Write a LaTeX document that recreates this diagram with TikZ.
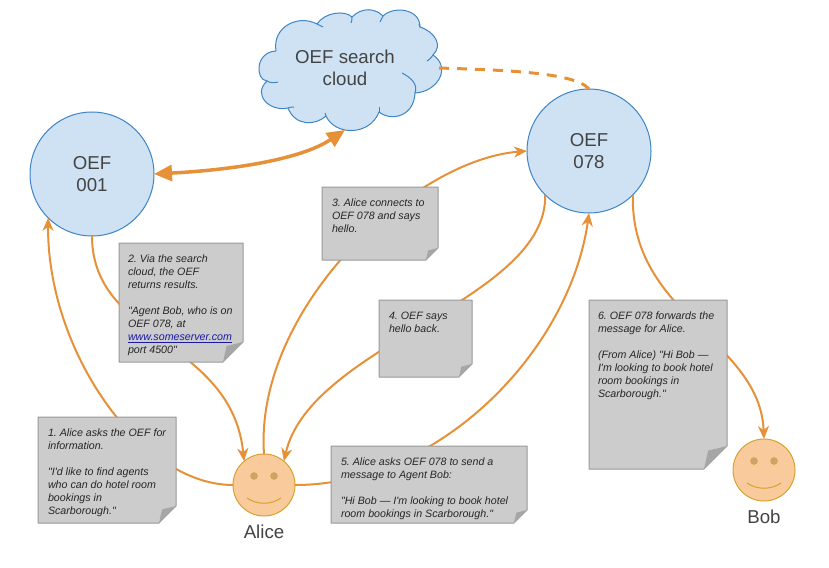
\documentclass[tikz,border=0pt]{standalone}
\usepackage{fontspec}
\setmainfont{Liberation Sans}
\newfontfamily\notefont{Liberation Sans}
\usetikzlibrary{arrows.meta}
\definecolor{linkorange}{HTML}{E69138}
\definecolor{oefblue}{HTML}{CFE2F3}
\definecolor{oefedge}{HTML}{3D85C6}
\definecolor{facefill}{HTML}{F9CB9C}
\definecolor{faceedge}{HTML}{D6A32E}
\definecolor{eyefill}{HTML}{CDA26E}
\definecolor{labelgrey}{HTML}{434343}
\definecolor{linkblue}{HTML}{1A1AA6}
\frenchspacing
\begin{document}
\begin{tikzpicture}[x=1pt, y=-1pt,
	oef/.style={circle, draw=oefedge, fill=oefblue, line width=1pt, minimum size=124pt, inner sep=0pt, outer sep=0pt, align=center, text=labelgrey, font=\fontsize{18.67}{22}\selectfont},
	cloudtext/.style={minimum width=188pt, minimum height=124pt, inner sep=0pt, outer sep=0pt, align=center, text=labelgrey, font=\fontsize{18.67}{22}\selectfont},
	cloudline/.style={draw=oefedge, line width=1pt},
	face/.style={circle, draw=faceedge, fill=facefill, line width=1pt, minimum size=62pt, inner sep=0pt, outer sep=0pt},
	facename/.style={text=labelgrey, inner sep=0pt, font=\fontsize{18.67}{22}\selectfont},
	link/.style={draw=linkorange, line width=2pt},
	linkarrow/.style={link, -{Stealth[length=13pt, width=11pt, inset=4pt]}},
	searchlink/.style={draw=linkorange, line width=3.5pt, {Stealth[length=18pt, width=16pt, inset=0pt]}-{Stealth[length=18pt, width=16pt, inset=0pt]}},
	cloudlink/.style={draw=linkorange, line width=3pt, dash pattern=on 10pt off 8pt},
	notepaper/.style={draw=black!40, fill=black!20, line width=1pt, line join=round},
	notefold/.style={fill=black!35},
	notetext/.style={anchor=north west, inner sep=0pt, outer sep=0pt, align=left, text=black!85, font=\notefont\itshape\fontsize{10.67}{13}\selectfont}]
	\useasboundingbox (0,0) rectangle (829,567);

	% cloud outline, text node goes on top
	\path[fill=oefblue, cloudline] (276,51)
		.. controls (272,27) and (298,14) .. (317,24)
		.. controls (325,12) and (345,10) .. (352,17)
		.. controls (362,7) and (375,8) .. (383,16)
		.. controls (393,6) and (420,8) .. (420,27)
		.. controls (435,32) and (443,45) .. (433,55)
		.. controls (452,68) and (437,92) .. (415,93)
		.. controls (414,116) and (392,122) .. (379,112)
		.. controls (370,136) and (335,136) .. (326,116)
		.. controls (315,126) and (295,126) .. (288,108)
		.. controls (270,112) and (252,95) .. (267,81)
		.. controls (255,80) and (255,52) .. (276,51);
	\draw[cloudline] (267,81) .. controls (270,83) and (274,83) .. (278,82);
	\draw[cloudline] (288,108) .. controls (290,107) and (292,107) .. (294,107);
	\draw[cloudline] (326,116) .. controls (325,115) and (325,114) .. (325,113);
	\draw[cloudline] (379,112) .. controls (379,110) and (379,109) .. (379,107);
	\draw[cloudline] (415,93) .. controls (418,85) and (412,78) .. (402,73);
	\draw[cloudline] (433,55) .. controls (431,58) and (429,60) .. (427,61);
	\draw[cloudline] (420,27) .. controls (420,26) and (420,25) .. (419,24);
	\draw[cloudline] (383,16) .. controls (382,18) and (381,20) .. (380,22);
	\draw[cloudline] (352,17) .. controls (352,19) and (352,21) .. (351,23);
	\draw[cloudline] (317,24) .. controls (319,25) and (321,26) .. (323,27);
	\node[cloudtext] (searchcloud) at (345,68) {OEF search\\cloud};

	\node[oef] (oef001) at (92,174) {OEF\\001};
	\node[oef] (oef078) at (589,151) {OEF\\078};
	\node[face, label={[facename, label distance=8.5pt]below:Alice}] (alice) at (264,485) {};
	\node[face, label={[facename, label distance=8.5pt]below:Bob}] (bob) at (764,470) {};

	% eyes and smile
	\foreach \who in {alice,bob} {
		\fill[eyefill, draw=faceedge] ([shift={(-10,-9)}]\who.center) circle (3.5pt);
		\fill[eyefill, draw=faceedge] ([shift={(10,-9)}]\who.center) circle (3.5pt);
		\draw[faceedge, line width=1pt] ([shift={(-17,13)}]\who.center) .. controls +(10,7) and +(-10,7) .. ([shift={(17,13)}]\who.center);
	}

	\draw[searchlink] (oef001.east) .. controls (230,170) and (300,160) .. (searchcloud.south);
	\draw[cloudlink] (searchcloud.east) .. controls (500,70) and (575,72) .. (oef078.north);

	\draw[linkarrow] (alice.west) .. controls (140,485) and (47,350) .. (oef001.225);
	\draw[linkarrow] (oef001.south) .. controls (92,340) and (232,340) .. (alice.130);
	\draw[linkarrow] (alice.north) .. controls (254,310) and (412,160) .. (oef078.west);
	\draw[linkarrow] (oef078.225) .. controls (548,300) and (310,345) .. (alice.50);
	\draw[linkarrow] (alice.east) .. controls (440,485) and (570,350) .. (oef078.south);
	\draw[linkarrow] (oef078.315) .. controls (630,315) and (760,340) .. (bob.north);

	% paper: left, top, width, height, fold
	\foreach \nx/\ny/\nw/\nh/\nf in {38/417/138/106/17, 119/243/124/119/20, 322/187/116/73/12, 379/300/93/77/13, 331/446/196/77/13, 589/300/138/169/23} {
		\draw[notepaper] (\nx,\ny) -- ({\nx+\nw},\ny) -- ({\nx+\nw},{\ny+\nh-\nf}) -- ({\nx+\nw-\nf},{\ny+\nh}) -- (\nx,{\ny+\nh}) -- cycle;
		\fill[notefold] ({\nx+\nw},{\ny+\nh-\nf}) -- ({\nx+\nw-\nf},{\ny+\nh}) -- ({\nx+\nw-0.82*\nf},{\ny+\nh-0.8*\nf}) -- cycle;
	}

	\node[notetext] (note1) at (48,429) {1. Alice asks the OEF for\\information.\\[13pt]"I'd like to find agents\\who can do hotel room\\bookings in\\Scarborough."};
	\node[notetext] (note2) at (128,255) {2. Via the search\\cloud, the OEF\\returns results.\\[13pt]"Agent Bob, who is on\\OEF 078, at\\\textcolor{linkblue}{\underline{www.someserver.com}}\\port 4500"};
	\node[notetext] (note3) at (332,199) {3. Alice connects to\\OEF 078 and says\\hello.};
	\node[notetext] (note4) at (389,312) {4. OEF says\\hello back.};
	\node[notetext] (note5) at (341,458) {5. Alice asks OEF 078 to send a\\message to Agent Bob:\\[13pt]"Hi Bob — I'm looking to book hotel\\room bookings in Scarborough."};
	\node[notetext] (note6) at (598,312) {6. OEF 078 forwards the\\message for Alice.\\[13pt](From Alice) "Hi Bob —\\I'm looking to book hotel\\room bookings in\\Scarborough."};
\end{tikzpicture}
\end{document}
